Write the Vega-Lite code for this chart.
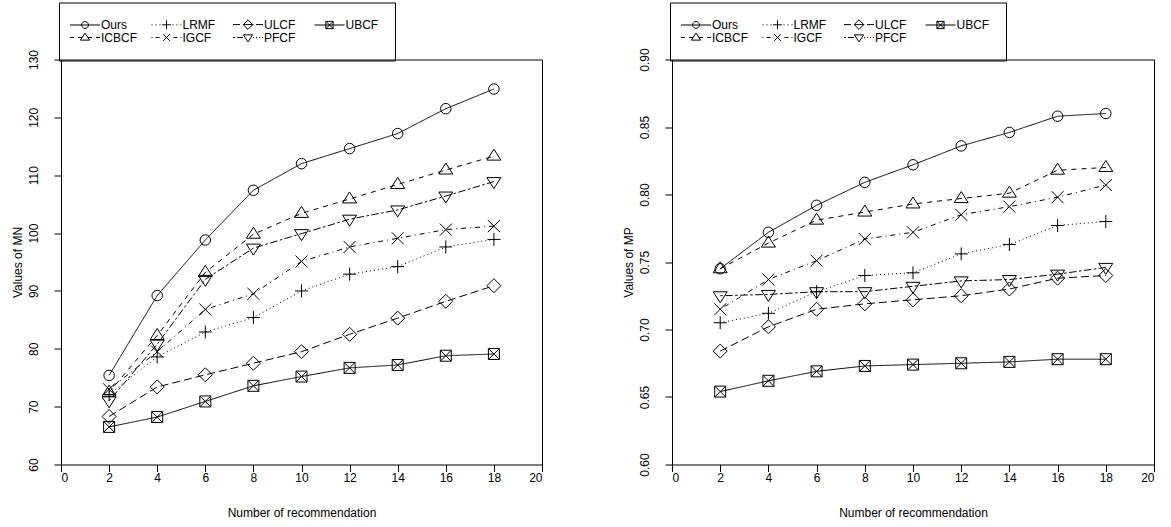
{
  "$schema": "https://vega.github.io/schema/vega-lite/v6.json",
  "padding": {"left": 10, "top": 1.5, "right": 5, "bottom": 5},
  "background": "white",
  "config": {
    "font": "Liberation Sans",
    "view": {"stroke": "black", "strokeWidth": 1},
    "axis": {
      "labelFont": "Liberation Sans", "labelFontSize": 12, "labelColor": "black",
      "titleFont": "Liberation Sans", "titleFontSize": 12, "titleFontWeight": "normal", "titleColor": "black",
      "tickColor": "black", "tickSize": 7, "domain": false, "grid": false
    },
    "legend": {"labelFont": "Liberation Sans", "labelFontSize": 12, "labelColor": "black"}
  },
  "resolve": {"scale": {"shape": "independent", "strokeDash": "independent", "color": "independent"}, "legend": {"shape": "independent", "strokeDash": "independent", "color": "independent"}},
  "datasets": {
    "mn": [
      {"method": "Ours", "n": 2, "value": 75.4}, {"method": "Ours", "n": 4, "value": 89.2}, {"method": "Ours", "n": 6, "value": 98.8}, {"method": "Ours", "n": 8, "value": 107.4}, {"method": "Ours", "n": 10, "value": 112.0}, {"method": "Ours", "n": 12, "value": 114.6}, {"method": "Ours", "n": 14, "value": 117.2}, {"method": "Ours", "n": 16, "value": 121.5}, {"method": "Ours", "n": 18, "value": 124.9},
      {"method": "LRMF", "n": 2, "value": 72.1}, {"method": "LRMF", "n": 4, "value": 78.6}, {"method": "LRMF", "n": 6, "value": 82.9}, {"method": "LRMF", "n": 8, "value": 85.4}, {"method": "LRMF", "n": 10, "value": 90.0}, {"method": "LRMF", "n": 12, "value": 92.9}, {"method": "LRMF", "n": 14, "value": 94.2}, {"method": "LRMF", "n": 16, "value": 97.6}, {"method": "LRMF", "n": 18, "value": 98.9},
      {"method": "ULCF", "n": 2, "value": 68.3}, {"method": "ULCF", "n": 4, "value": 73.4}, {"method": "ULCF", "n": 6, "value": 75.5}, {"method": "ULCF", "n": 8, "value": 77.5}, {"method": "ULCF", "n": 10, "value": 79.5}, {"method": "ULCF", "n": 12, "value": 82.5}, {"method": "ULCF", "n": 14, "value": 85.3}, {"method": "ULCF", "n": 16, "value": 88.2}, {"method": "ULCF", "n": 18, "value": 90.9},
      {"method": "UBCF", "n": 2, "value": 66.5}, {"method": "UBCF", "n": 4, "value": 68.2}, {"method": "UBCF", "n": 6, "value": 70.9}, {"method": "UBCF", "n": 8, "value": 73.6}, {"method": "UBCF", "n": 10, "value": 75.2}, {"method": "UBCF", "n": 12, "value": 76.7}, {"method": "UBCF", "n": 14, "value": 77.2}, {"method": "UBCF", "n": 16, "value": 78.8}, {"method": "UBCF", "n": 18, "value": 79.1},
      {"method": "ICBCF", "n": 2, "value": 72.5}, {"method": "ICBCF", "n": 4, "value": 82.3}, {"method": "ICBCF", "n": 6, "value": 93.2}, {"method": "ICBCF", "n": 8, "value": 99.8}, {"method": "ICBCF", "n": 10, "value": 103.4}, {"method": "ICBCF", "n": 12, "value": 105.9}, {"method": "ICBCF", "n": 14, "value": 108.4}, {"method": "ICBCF", "n": 16, "value": 110.9}, {"method": "ICBCF", "n": 18, "value": 113.3},
      {"method": "IGCF", "n": 2, "value": 73.0}, {"method": "IGCF", "n": 4, "value": 79.5}, {"method": "IGCF", "n": 6, "value": 86.8}, {"method": "IGCF", "n": 8, "value": 89.5}, {"method": "IGCF", "n": 10, "value": 95.1}, {"method": "IGCF", "n": 12, "value": 97.6}, {"method": "IGCF", "n": 14, "value": 99.1}, {"method": "IGCF", "n": 16, "value": 100.6}, {"method": "IGCF", "n": 18, "value": 101.2},
      {"method": "PFCF", "n": 2, "value": 71.0}, {"method": "PFCF", "n": 4, "value": 80.8}, {"method": "PFCF", "n": 6, "value": 92.0}, {"method": "PFCF", "n": 8, "value": 97.4}, {"method": "PFCF", "n": 10, "value": 99.9}, {"method": "PFCF", "n": 12, "value": 102.4}, {"method": "PFCF", "n": 14, "value": 104.0}, {"method": "PFCF", "n": 16, "value": 106.4}, {"method": "PFCF", "n": 18, "value": 108.9}
    ],
    "mp": [
      {"method": "Ours", "n": 2, "value": 0.745}, {"method": "Ours", "n": 4, "value": 0.772}, {"method": "Ours", "n": 6, "value": 0.792}, {"method": "Ours", "n": 8, "value": 0.809}, {"method": "Ours", "n": 10, "value": 0.822}, {"method": "Ours", "n": 12, "value": 0.836}, {"method": "Ours", "n": 14, "value": 0.846}, {"method": "Ours", "n": 16, "value": 0.858}, {"method": "Ours", "n": 18, "value": 0.860},
      {"method": "LRMF", "n": 2, "value": 0.705}, {"method": "LRMF", "n": 4, "value": 0.712}, {"method": "LRMF", "n": 6, "value": 0.728}, {"method": "LRMF", "n": 8, "value": 0.740}, {"method": "LRMF", "n": 10, "value": 0.742}, {"method": "LRMF", "n": 12, "value": 0.756}, {"method": "LRMF", "n": 14, "value": 0.763}, {"method": "LRMF", "n": 16, "value": 0.777}, {"method": "LRMF", "n": 18, "value": 0.780},
      {"method": "ULCF", "n": 2, "value": 0.684}, {"method": "ULCF", "n": 4, "value": 0.702}, {"method": "ULCF", "n": 6, "value": 0.715}, {"method": "ULCF", "n": 8, "value": 0.719}, {"method": "ULCF", "n": 10, "value": 0.722}, {"method": "ULCF", "n": 12, "value": 0.725}, {"method": "ULCF", "n": 14, "value": 0.730}, {"method": "ULCF", "n": 16, "value": 0.738}, {"method": "ULCF", "n": 18, "value": 0.740},
      {"method": "UBCF", "n": 2, "value": 0.654}, {"method": "UBCF", "n": 4, "value": 0.662}, {"method": "UBCF", "n": 6, "value": 0.669}, {"method": "UBCF", "n": 8, "value": 0.673}, {"method": "UBCF", "n": 10, "value": 0.674}, {"method": "UBCF", "n": 12, "value": 0.675}, {"method": "UBCF", "n": 14, "value": 0.676}, {"method": "UBCF", "n": 16, "value": 0.678}, {"method": "UBCF", "n": 18, "value": 0.678},
      {"method": "ICBCF", "n": 2, "value": 0.745}, {"method": "ICBCF", "n": 4, "value": 0.764}, {"method": "ICBCF", "n": 6, "value": 0.781}, {"method": "ICBCF", "n": 8, "value": 0.787}, {"method": "ICBCF", "n": 10, "value": 0.793}, {"method": "ICBCF", "n": 12, "value": 0.797}, {"method": "ICBCF", "n": 14, "value": 0.801}, {"method": "ICBCF", "n": 16, "value": 0.818}, {"method": "ICBCF", "n": 18, "value": 0.820},
      {"method": "IGCF", "n": 2, "value": 0.715}, {"method": "IGCF", "n": 4, "value": 0.737}, {"method": "IGCF", "n": 6, "value": 0.751}, {"method": "IGCF", "n": 8, "value": 0.767}, {"method": "IGCF", "n": 10, "value": 0.772}, {"method": "IGCF", "n": 12, "value": 0.785}, {"method": "IGCF", "n": 14, "value": 0.791}, {"method": "IGCF", "n": 16, "value": 0.798}, {"method": "IGCF", "n": 18, "value": 0.807},
      {"method": "PFCF", "n": 2, "value": 0.725}, {"method": "PFCF", "n": 4, "value": 0.726}, {"method": "PFCF", "n": 6, "value": 0.728}, {"method": "PFCF", "n": 8, "value": 0.728}, {"method": "PFCF", "n": 10, "value": 0.732}, {"method": "PFCF", "n": 12, "value": 0.736}, {"method": "PFCF", "n": 14, "value": 0.737}, {"method": "PFCF", "n": 16, "value": 0.741}, {"method": "PFCF", "n": 18, "value": 0.746}
    ]
  },
  "spacing": 78,
  "hconcat": [
    {
      "width": 481, "height": 405,
      "data": {"name": "mn"},
      "layer": [
        {
          "mark": {"type": "line", "strokeWidth": 1},
          "encoding": {
            "x": {"field": "n", "type": "quantitative", "scale": {"domain": [0, 20], "nice": false}, "axis": {"values": [0, 2, 4, 6, 8, 10, 12, 14, 16, 18, 20], "title": "Number of recommendation", "labelPadding": 1, "titlePadding": 24}},
            "y": {"field": "value", "type": "quantitative", "scale": {"domain": [60, 130], "nice": false, "zero": false}, "axis": {"values": [60, 65, 70, 75, 80, 85, 90, 95, 100, 105, 110, 115, 120, 125, 130], "labelExpr": "datum.value % 10 === 0 ? datum.label : ''", "labelAngle": -90, "labelPadding": 14, "title": "Values of MN", "titlePadding": 3}},
            "strokeDash": {"field": "method", "type": "nominal", "scale": {"domain": ["Ours", "UBCF", "LRMF", "ULCF", "ICBCF", "IGCF", "PFCF"], "range": [[1, 0], [1, 0], [1, 3], [8, 4], [5, 5], [1, 4, 5, 4], [2.5, 2.5, 7.5, 2.5]]}, "legend": null},
            "color": {"field": "method", "type": "nominal",
              "scale": {"domain": ["Ours", "LRMF", "ULCF", "UBCF", "ICBCF", "IGCF", "PFCF"], "range": ["black", "black", "black", "black", "black", "black", "black"]},
              "legend": {"orient": "none", "direction": "horizontal", "legendX": -2, "legendY": -57, "title": null, "columns": 4, "gridAlign": "all", "symbolSize": 64, "labelOffset": 14, "labelFontSize": 12, "labelFont": "Liberation Sans", "labelColor": "black", "strokeColor": "black", "padding": 16, "rowPadding": -5, "columnPadding": 12.5, "symbolStrokeColor": "black", "symbolFillColor": "transparent", "symbolStrokeWidth": 1,
                "encode": {"symbols": {"update": {
                  "shape": {"signal": "datum.value === 'Ours' ? 'M-2.75,0L4.75,0M0.15,0A0.85,0.85,0,1,0,1.85,0A0.85,0.85,0,1,0,0.15,0Z' : datum.value === 'LRMF' ? 'M-2.75,0L-2.5,0M-1.75,0L-1.5,0M-0.75,0L-0.5,0M2.5,0L2.75,0M3.5,0L3.75,0M4.5,0L4.75,0M-0.1,0L2.1,0M1,-1.1L1,1.1' : datum.value === 'ULCF' ? 'M-2.75,0L-1,0M-0.25,0L2.25,0M3,0L4.75,0M-0.2,0L1,-1.2L2.2,0L1,1.2Z' : datum.value === 'UBCF' ? 'M-2.75,0L4.75,0M0.1,-0.9L1.9,-0.9L1.9,0.9L0.1,0.9ZM0.1,-0.9L1.9,0.9M0.1,0.9L1.9,-0.9' : datum.value === 'ICBCF' ? 'M-2.75,0L-1.75,0M-0.75,0L0.25,0M1.75,0L2.75,0M3.75,0L4.75,0M-0.15,0.65L2.15,0.65L1,-1.1Z' : datum.value === 'IGCF' ? 'M-2.75,0L-2.5,0M-1.75,0L-0.75,0M2.75,0L3.75,0M4.5,0L4.75,0M0.15,-0.85L1.85,0.85M0.15,0.85L1.85,-0.85' : 'M-2.75,0L-2.25,0M-1.75,0L-0.25,0M2.25,0L2.5,0M3,0L3.25,0M3.75,0L4,0M4.5,0L4.75,0M-0.15,-0.65L2.15,-0.65L1,1.1Z'"},
                  "size": {"value": 64}, "fill": {"value": "transparent"}, "stroke": {"value": "black"}, "strokeWidth": {"value": 1}, "opacity": {"value": 1}
                }}}
              }
            }
          }
        },
        {
          "mark": {"type": "point", "filled": false, "color": "black", "strokeWidth": 1, "size": 100, "opacity": 1},
          "encoding": {
            "x": {"field": "n", "type": "quantitative"},
            "y": {"field": "value", "type": "quantitative"},
            "shape": {"field": "method", "type": "nominal", "legend": null,
              "scale": {"domain": ["UBCF", "Ours", "LRMF", "ULCF", "ICBCF", "IGCF", "PFCF"],
                "range": ["M-1.1,-1.1L1.1,-1.1L1.1,1.1L-1.1,1.1ZM-1.1,-1.1L1.1,1.1M-1.1,1.1L1.1,-1.1", "M-1.05,0A1.05,1.05,0,1,0,1.05,0A1.05,1.05,0,1,0,-1.05,0Z", "M-1.3,0L1.3,0M0,-1.3L0,1.3", "M-1.4,0L0,-1.4L1.4,0L0,1.4Z", "M-1.4,0.8L1.4,0.8L0,-1.4Z", "M-1.2,-1.2L1.2,1.2M-1.2,1.2L1.2,-1.2", "M-1.4,-0.8L1.4,-0.8L0,1.4Z"]}}
          }
        }
      ]
    },
    {
      "width": 482, "height": 405,
      "data": {"name": "mp"},
      "layer": [
        {
          "mark": {"type": "line", "strokeWidth": 1},
          "encoding": {
            "x": {"field": "n", "type": "quantitative", "scale": {"domain": [0, 20], "nice": false}, "axis": {"values": [0, 2, 4, 6, 8, 10, 12, 14, 16, 18, 20], "title": "Number of recommendation", "labelPadding": 1, "titlePadding": 24}},
            "y": {"field": "value", "type": "quantitative", "scale": {"domain": [0.6, 0.9], "nice": false, "zero": false}, "axis": {"values": [0.6, 0.65, 0.7, 0.75, 0.8, 0.85, 0.9], "format": ".2f", "labelAngle": -90, "labelPadding": 14, "title": "Values of MP", "titlePadding": 3}},
            "strokeDash": {"field": "method", "type": "nominal", "scale": {"domain": ["Ours", "UBCF", "LRMF", "ULCF", "ICBCF", "IGCF", "PFCF"], "range": [[1, 0], [1, 0], [1, 3], [8, 4], [5, 5], [1, 4, 5, 4], [2.5, 2.5, 7.5, 2.5]]}, "legend": null},
            "color": {"field": "method", "type": "nominal",
              "scale": {"domain": ["Ours", "LRMF", "ULCF", "UBCF", "ICBCF", "IGCF", "PFCF"], "range": ["black", "black", "black", "black", "black", "black", "black"]},
              "legend": {"orient": "none", "direction": "horizontal", "legendX": -2, "legendY": -57, "title": null, "columns": 4, "gridAlign": "all", "symbolSize": 64, "labelOffset": 14, "labelFontSize": 12, "labelFont": "Liberation Sans", "labelColor": "black", "strokeColor": "black", "padding": 16, "rowPadding": -5, "columnPadding": 12.5, "symbolStrokeColor": "black", "symbolFillColor": "transparent", "symbolStrokeWidth": 1,
                "encode": {"symbols": {"update": {
                  "shape": {"signal": "datum.value === 'Ours' ? 'M-2.75,0L4.75,0M0.15,0A0.85,0.85,0,1,0,1.85,0A0.85,0.85,0,1,0,0.15,0Z' : datum.value === 'LRMF' ? 'M-2.75,0L-2.5,0M-1.75,0L-1.5,0M-0.75,0L-0.5,0M2.5,0L2.75,0M3.5,0L3.75,0M4.5,0L4.75,0M-0.1,0L2.1,0M1,-1.1L1,1.1' : datum.value === 'ULCF' ? 'M-2.75,0L-1,0M-0.25,0L2.25,0M3,0L4.75,0M-0.2,0L1,-1.2L2.2,0L1,1.2Z' : datum.value === 'UBCF' ? 'M-2.75,0L4.75,0M0.1,-0.9L1.9,-0.9L1.9,0.9L0.1,0.9ZM0.1,-0.9L1.9,0.9M0.1,0.9L1.9,-0.9' : datum.value === 'ICBCF' ? 'M-2.75,0L-1.75,0M-0.75,0L0.25,0M1.75,0L2.75,0M3.75,0L4.75,0M-0.15,0.65L2.15,0.65L1,-1.1Z' : datum.value === 'IGCF' ? 'M-2.75,0L-2.5,0M-1.75,0L-0.75,0M2.75,0L3.75,0M4.5,0L4.75,0M0.15,-0.85L1.85,0.85M0.15,0.85L1.85,-0.85' : 'M-2.75,0L-2.25,0M-1.75,0L-0.25,0M2.25,0L2.5,0M3,0L3.25,0M3.75,0L4,0M4.5,0L4.75,0M-0.15,-0.65L2.15,-0.65L1,1.1Z'"},
                  "size": {"value": 64}, "fill": {"value": "transparent"}, "stroke": {"value": "black"}, "strokeWidth": {"value": 1}, "opacity": {"value": 1}
                }}}
              }
            }
          }
        },
        {
          "mark": {"type": "point", "filled": false, "color": "black", "strokeWidth": 1, "size": 100, "opacity": 1},
          "encoding": {
            "x": {"field": "n", "type": "quantitative"},
            "y": {"field": "value", "type": "quantitative"},
            "shape": {"field": "method", "type": "nominal", "legend": null,
              "scale": {"domain": ["UBCF", "Ours", "LRMF", "ULCF", "ICBCF", "IGCF", "PFCF"],
                "range": ["M-1.1,-1.1L1.1,-1.1L1.1,1.1L-1.1,1.1ZM-1.1,-1.1L1.1,1.1M-1.1,1.1L1.1,-1.1", "M-1.05,0A1.05,1.05,0,1,0,1.05,0A1.05,1.05,0,1,0,-1.05,0Z", "M-1.3,0L1.3,0M0,-1.3L0,1.3", "M-1.4,0L0,-1.4L1.4,0L0,1.4Z", "M-1.4,0.8L1.4,0.8L0,-1.4Z", "M-1.2,-1.2L1.2,1.2M-1.2,1.2L1.2,-1.2", "M-1.4,-0.8L1.4,-0.8L0,1.4Z"]}}
          }
        }
      ]
    }
  ]
}
